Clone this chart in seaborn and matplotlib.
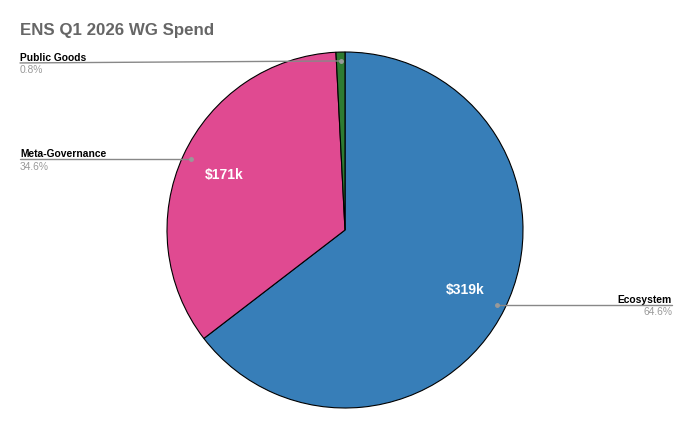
import numpy as np
import matplotlib
matplotlib.use("Agg")
import matplotlib.pyplot as plt
import seaborn as sns

# data
categories = ["Ecosystem", "Meta-Governance", "Public Goods"]
spend_k = [319, 171, 4]
value_labels = ["$319k", "$171k", ""]
colors = ["#377eb8", "#e04a91", "#2e7b32"]

sns.set_theme(style="white")
plt.rcParams['font.family'] = ['Liberation Sans', 'DejaVu Sans']

fig = plt.figure(figsize=(6.9, 4.28), dpi=100)
ax = fig.add_axes([0, 0, 1, 1])

cx, cy, r = 345, 198, 178
wedges, _ = ax.pie(spend_k, colors=colors, startangle=90, counterclock=False,
                   center=(cx, cy), radius=r, frame=True,
                   wedgeprops=dict(edgecolor="black", linewidth=0.8))
ax.set_xlim(0, 690)
ax.set_ylim(0, 428)
ax.axis("off")

total = sum(spend_k)
for w, name, val, vlab in zip(wedges, categories, spend_k, value_labels):
    mid = np.deg2rad((w.theta1 + w.theta2) / 2)
    # value label inside slice
    if vlab:
        ax.text(cx + 0.75 * r * np.cos(mid), cy + 0.75 * r * np.sin(mid) - 1, vlab,
                color="white", fontsize=10, fontweight="bold",
                ha="center", va="center")
    # leader dot + line
    dx, dy = cx + 0.95 * r * np.cos(mid), cy + 0.95 * r * np.sin(mid)
    ax.plot(dx, dy, "o", color="#999999", markersize=2.5, zorder=5)
    pct = f"{100 * val / total:.1f}%"
    if name == "Ecosystem":
        x_end, ha = 672, "right"
    else:
        x_end, ha = 20, "left"
    ly = dy - 2 if name == "Public Goods" else dy
    ax.plot([dx, x_end], [dy, ly], color="#888888", linewidth=1, zorder=4)
    ax.text(x_end, ly + 2, name, fontsize=7.4, fontweight="bold", color="black",
            ha=ha, va="baseline")
    ax.text(x_end, ly - 2.5, pct, fontsize=7.4, color="#999999", ha=ha, va="top")

fig.text(20 / 690, 1 - 35 / 428, "ENS Q1 2026 WG Spend", fontsize=12.2,
         fontweight="bold", color="#666666", ha="left", va="baseline")

fig.savefig("out.png", dpi=100)
